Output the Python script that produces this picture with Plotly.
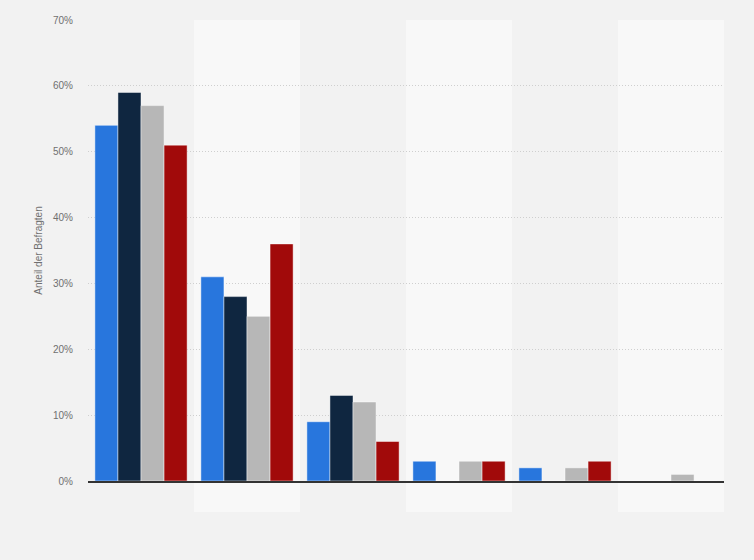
import plotly.graph_objects as go

# Kategorien (keine Achsenbeschriftung im Original sichtbar)
categories = ["A", "B", "C", "D", "E", "F"]

series_names = ["Serie 1", "Serie 2", "Serie 3", "Serie 4"]
series_1 = [54, 31, 9, 3, 2, 0]
series_2 = [59, 28, 13, 0, 0, 0]
series_3 = [57, 25, 12, 3, 2, 1]
series_4 = [51, 36, 6, 3, 3, 0]

colours = ["#2876dd", "#0f2640", "#b7b7b7", "#a10a0a"]
y_ticks = [0, 10, 20, 30, 40, 50, 60, 70]

fig = go.Figure()
for name, vals, col in zip(series_names, [series_1, series_2, series_3, series_4], colours):
    fig.add_trace(go.Bar(
        x=categories, y=vals, name=name,
        marker=dict(color=col, line=dict(color="rgba(255,255,255,0.45)", width=1)),
    ))

# abwechselnde Hintergrundstreifen je Kategorie
shapes = []
n = len(categories)
for i in range(n):
    shapes.append(dict(
        type="rect", xref="paper", yref="paper",
        x0=i / n, x1=(i + 1) / n, y0=-0.067, y1=1,
        fillcolor="#f8f8f8" if i % 2 == 1 else "#f2f2f2",
        line=dict(width=0), layer="below",
    ))

fig.update_layout(
    width=754, height=560,
    paper_bgcolor="#f2f2f2", plot_bgcolor="rgba(0,0,0,0)",
    margin=dict(l=88, r=30, t=20, b=79),
    barmode="group", bargap=0.13, bargroupgap=0.0,
    showlegend=False,
    shapes=shapes,
    font=dict(family="Arial, Liberation Sans, sans-serif", size=10, color="#707070"),
)
fig.update_xaxes(
    showticklabels=False, showgrid=False, zeroline=False,
    showline=True, linecolor="#333333", linewidth=1.5,
)
fig.update_yaxes(
    range=[0, 70], tickvals=y_ticks, ticktext=[f"{v}%" for v in y_ticks],
    showgrid=True, gridcolor="#cfcfcf", griddash="1px,2px", gridwidth=1,
    zeroline=False, ticks="", ticklabelstandoff=14,
    title=dict(text="Anteil der Befragten", font=dict(size=10, color="#707070"), standoff=8),
)

# Seitenrand entfernen, damit das Diagramm bündig sitzt
fig.write_html("out.html", config={"displayModeBar": False},
               post_script="document.body.style.margin='0';")
